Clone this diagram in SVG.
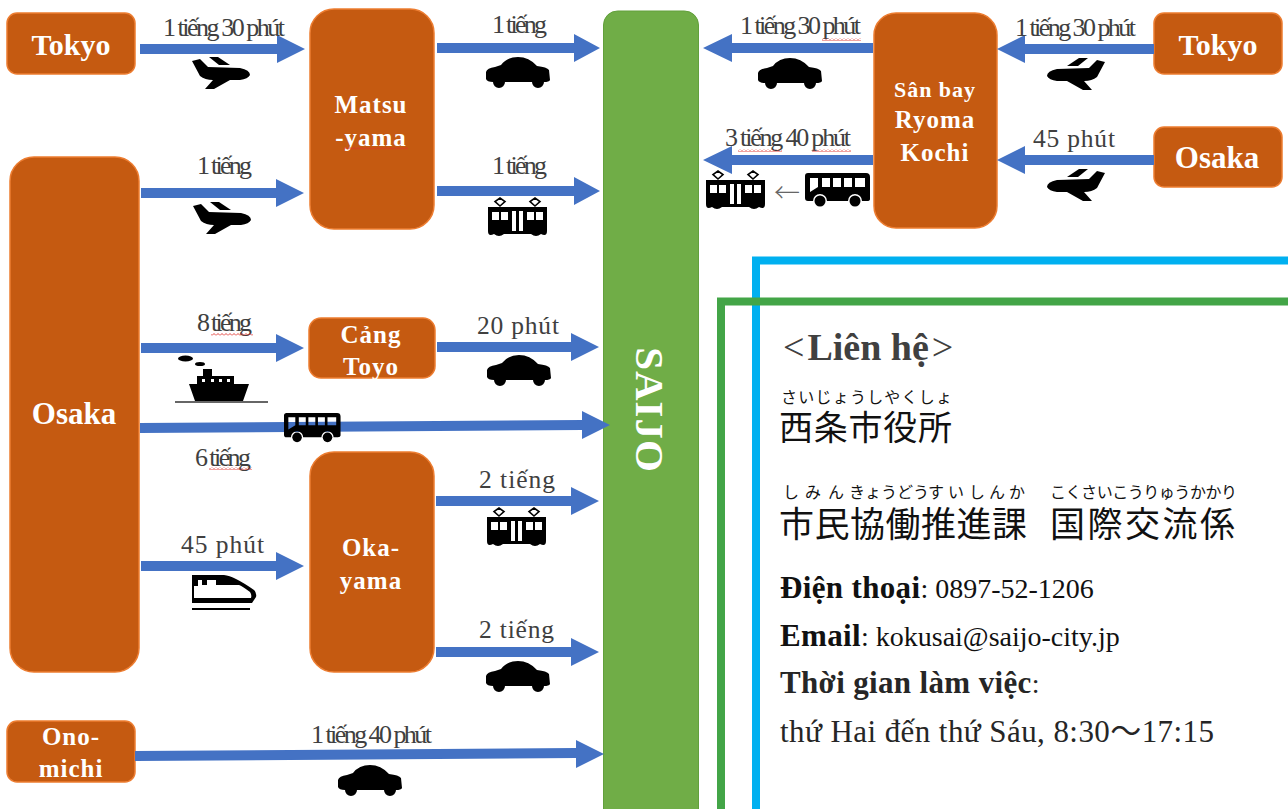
<svg xmlns="http://www.w3.org/2000/svg" width="1288" height="809" viewBox="0 0 1288 809">
<style>
text{font-family:"Liberation Serif","Noto Sans CJK JP",serif}
.n{fill:#C55A11;stroke:#ED7D31;stroke-width:1.5}
.s{fill:#70AD47;stroke:#62A03C;stroke-width:1}
.a{fill:#4472C4}
.w{fill:#fff;font-weight:bold;text-anchor:middle}
.l{fill:#404040;font-size:26px}
.m{fill:#404040;font-size:25.500px}
.j{font-family:"Noto Sans CJK JP",sans-serif;fill:#111}
.r{font-size:16px}
.b{font-size:28px;fill:#111}
.d{fill:#262626}
.bb{font-size:31px;font-weight:bold;letter-spacing:.35px}
.fr{fill:none;stroke-width:8}
.sq{fill:url(#wavy)}
</style>
<defs>
<pattern id="wavy" width="4" height="3" patternUnits="userSpaceOnUse"><path d="M0 2.500L2 .5L4 2.500" fill="none" stroke="#E0302A" stroke-width=".9"/></pattern>
<g id="plane"><path d="M0 5L8 3L16 11L48 12Q58 14 58 19Q56 23 48 24L38 24L22 33L13 33L21 24Q13 24 8 20Z"/><path d="M17 1L26 1L38 9L27 9Z"/></g>
<g id="car"><path d="M1 15Q2 11 10 10L16 8Q22 0 33 0Q44 0 52 9Q62 10 64 13L65 23Q64 25 59 25A6 6 0 0 1 47 25L20 25A6 6 0 0 1 8 25Q2 25 1 22Z"/></g>
<g id="train"><path d="M12 9L17 4.500L12 1L7 4.500ZM47 9L52 4.500L47 1L42 4.500Z" fill="none" stroke="#000" stroke-width="1.600"/><path d="M0 10H59V34Q59 40 53 37Q48 41 43 37H16Q11 41 6 37Q0 40 0 34Z"/><path d="M4 15H11V23H4ZM13 15H20V23H13ZM39 15H46V23H39ZM48 15H55V23H48ZM24 14H28V34H24ZM31 14H35V34H31Z" fill="#fff"/></g>
<g id="bus"><path fill-rule="evenodd" d="M3 0H61Q65 0 65 4V26Q65 28 62 28H57A7 7 0 0 0 43 28H22A7 7 0 0 0 8 28H3Q0 28 0 25V3Q0 0 3 0ZM5 5V19L13 14V5ZM17 5V14H25V5ZM28 5V14H36V5ZM39 5V14H47V5ZM50 5V14H60V5Z"/><circle cx="15" cy="28" r="5.500"/><circle cx="50" cy="28" r="5.500"/></g>
<g id="ship"><ellipse cx="10.500" cy="3.500" rx="7.500" ry="3"/><ellipse cx="25" cy="9" rx="5" ry="2"/><path fill-rule="evenodd" d="M28 14H37V21H59V29H74L68 46H20L14 29H22V21H28ZM27 24V27H30V24ZM36 24V27H39V24ZM44 24V27H47V24ZM52 24V27H55V24Z"/><path d="M0 47H93" stroke="#333" stroke-width="1.500"/></g>
<g id="shin"><path fill-rule="evenodd" d="M0 0H32Q42 1 62 15Q65 18 64 22L60 28H0ZM6 5V11H2V23H59Q60 20 58 17Q50 11 47 10H24V5ZM10 5V10H15V5Z"/><path d="M0 34H58" stroke="#000" stroke-width="2"/></g>
</defs>
<rect width="1288" height="809" fill="#fff"/>

<g id="frames">
<path class="fr" stroke="#00B0F0" d="M756 809V260.500H1288"/>
<path class="fr" stroke="#43A547" d="M721 809V301.500H1288"/>
</g>

<g id="node-tokyo-left"><rect class="n" x="7" y="13" width="128" height="61" rx="10"/><text class="w" x="71" y="55" font-size="30">Tokyo</text></g>
<g id="node-osaka-left"><rect class="n" x="10" y="157" width="129" height="515" rx="24"/><text class="w" x="74" y="424" font-size="31">Osaka</text></g>
<g id="node-matsuyama"><rect class="n" x="310" y="9" width="124" height="220" rx="24"/><text class="w" x="371" y="113" font-size="25" letter-spacing="1">Matsu</text><text class="w" x="371" y="146" font-size="25" letter-spacing="1">-yama</text><rect class="sq" x="344" y="147" width="64" height="3"/></g>
<g id="node-toyo"><rect class="n" x="309" y="318" width="126" height="60" rx="12"/><text class="w" x="371" y="343" font-size="25" letter-spacing="1">Cảng</text><text class="w" x="371" y="375" font-size="25" letter-spacing="1">Toyo</text></g>
<g id="node-okayama"><rect class="n" x="310" y="452" width="124" height="220" rx="24"/><text class="w" x="371" y="556" font-size="25" letter-spacing="1">Oka-</text><text class="w" x="371" y="589" font-size="25" letter-spacing="1">yama</text></g>
<g id="node-onomichi"><rect class="n" x="7" y="721" width="128" height="61" rx="10"/><text class="w" x="71" y="745" font-size="25" letter-spacing="1">Ono-</text><text class="w" x="71" y="777" font-size="25" letter-spacing="1">michi</text></g>
<g id="node-saijo"><rect class="s" x="603.500" y="11" width="95" height="812" rx="14"/><text class="w" transform="translate(636 410) rotate(90)" font-size="41" letter-spacing="1">SAIJO</text></g>
<g id="node-ryoma"><rect class="n" x="874" y="13" width="123" height="215" rx="22"/><text class="w" x="935" y="97" font-size="22" letter-spacing="1">Sân bay</text><text class="w" x="935" y="128" font-size="25" letter-spacing="1">Ryoma</text><text class="w" x="935" y="161" font-size="25" letter-spacing="1">Kochi</text></g>
<g id="node-tokyo-right"><rect class="n" x="1154" y="13" width="128" height="61" rx="10"/><text class="w" x="1218" y="55" font-size="30">Tokyo</text></g>
<g id="node-osaka-right"><rect class="n" x="1154" y="127" width="128" height="60" rx="10"/><text class="w" x="1217" y="168" font-size="31">Osaka</text></g>

<g id="connectors">
<path class="a" d="M140 44H277V35L305 49L277 63V54H140Z"/>
<path class="a" d="M141 188H276V179L304 193L276 207V198H141Z"/>
<path class="a" d="M437 43H574V34L600 48L574 62V53H437Z"/>
<path class="a" d="M437 186H574V177L600 191L574 205V196H437Z"/>
<path class="a" d="M141 343H276V334L304 348L276 362V353H141Z"/>
<path class="a" d="M437 342H571V333L599 347L571 361V352H437Z"/>
<path class="a" d="M140 423L582 420V411L610 425L582 439V430L140 433Z"/>
<path class="a" d="M436 496H571V487L599 501L571 515V506H436Z"/>
<path class="a" d="M141 561H276V552L304 566L276 580V571H141Z"/>
<path class="a" d="M436 647H571V638L599 652L571 666V657H436Z"/>
<path class="a" d="M135 751L576 748V740L604 754L576 768V758L135 761Z"/>
<path class="a" d="M873 43H732V34L703 48L732 62V53H873Z"/>
<path class="a" d="M873 155H732V146L703 160L732 174V165H873Z"/>
<path class="a" d="M1154 44H1025V35L997 49L1025 63V54H1154Z"/>
<path class="a" d="M1154 155H1025V146L997 160L1025 174V165H1154Z"/>
</g>

<g id="icons">
<use href="#plane" transform="translate(192 56)"/>
<use href="#plane" transform="translate(193 201)"/>
<use href="#plane" transform="translate(1105 57) scale(-1 1)"/>
<use href="#plane" transform="translate(1105 168) scale(-1 1)"/>
<use href="#car" transform="translate(485 57)"/>
<use href="#car" transform="translate(757 58)"/>
<use href="#car" transform="translate(486 355)"/>
<use href="#car" transform="translate(485 661)"/>
<use href="#car" transform="translate(337 765)"/>
<use href="#train" transform="translate(488 197)"/>
<use href="#train" transform="translate(706 170)"/>
<use href="#train" transform="translate(487 507)"/>
<use href="#bus" transform="translate(805 173)"/>
<use href="#bus" transform="translate(284 413) scale(.87)"/>
<use href="#ship" transform="translate(175 355)"/>
<use href="#shin" transform="translate(192 575)"/>
<text x="774" y="202" font-size="26" fill="#666" font-weight="300" style="font-family:'Noto Sans CJK JP',sans-serif">←</text>
</g>

<g id="labels">
<text class="l" x="163" y="36" textLength="122">1 tiếng 30 phút</text>
<text class="l" x="197" y="174" textLength="55">1 tiếng</text>
<text class="l" x="492" y="33" textLength="55">1 tiếng</text>
<text class="l" x="492" y="174" textLength="55">1 tiếng</text>
<text class="l" x="197" y="331" textLength="55">8 tiếng</text>
<rect class="sq" x="211" y="333" width="42" height="3"/>
<text class="m" x="477" y="334" textLength="82">20 phút</text>
<text class="l" x="195" y="466" textLength="56">6 tiếng</text>
<rect class="sq" x="209" y="467" width="43" height="3"/>
<text class="m" x="479" y="488" textLength="76">2 tiếng</text>
<text class="m" x="181" y="553" textLength="83">45 phút</text>
<text class="m" x="479" y="638" textLength="75">2 tiếng</text>
<text class="l" x="311" y="743" textLength="121">1 tiếng 40 phút</text>
<text class="l" x="740" y="34" textLength="121">1 tiếng 30 phút</text>
<rect class="sq" x="822" y="38" width="39" height="3"/>
<text class="l" x="1015" y="36" textLength="121">1 tiếng 30 phút</text>
<text class="l" x="725" y="146" textLength="126">3 tiếng 40 phút</text>
<rect class="sq" x="738" y="149" width="44" height="3"/>
<rect class="sq" x="812" y="149" width="39" height="3"/>
<text class="m" x="1033" y="147" textLength="82">45 phút</text>
</g>

<g id="contact">
<text x="783" y="360" font-size="38" fill="#404040">&lt;<tspan dx="3" font-weight="bold">Liên hệ</tspan><tspan dx="3">&gt;</tspan></text>
<text class="j r" x="781" y="403" textLength="171">さいじょうしやくしょ</text>
<text class="j" x="779" y="440" font-size="34" textLength="173">西条市役所</text>
<text class="j r"><tspan x="783" y="498">し</tspan><tspan x="805" y="498">み</tspan><tspan x="828" y="498">ん</tspan><tspan x="849" y="498">きょうどう</tspan><tspan x="928" y="498">す</tspan><tspan x="948" y="498">い</tspan><tspan x="969" y="498">し</tspan><tspan x="989" y="498">ん</tspan><tspan x="1009" y="498">か</tspan></text>
<text class="j r" x="1050" y="498" textLength="187">こくさいこうりゅうかかり</text>
<text class="j" x="779" y="537" font-size="35" textLength="248">市民協働推進課</text>
<text class="j" x="1050" y="537" font-size="35" textLength="185">国際交流係</text>
<text class="b" x="780" y="598"><tspan class="bb">Điện thoại</tspan>: 0897-52-1206</text>
<text class="b" x="780" y="646"><tspan class="bb">Email</tspan>: kokusai@saijo-city.jp</text>
<text class="b d" x="780" y="693"><tspan class="bb">Thời gian làm việc</tspan>:</text>
<text class="b d" x="780" y="742" style="font-size:31px" textLength="434">thứ Hai đến thứ Sáu, 8:30〜17:15</text>
</g>
</svg>
